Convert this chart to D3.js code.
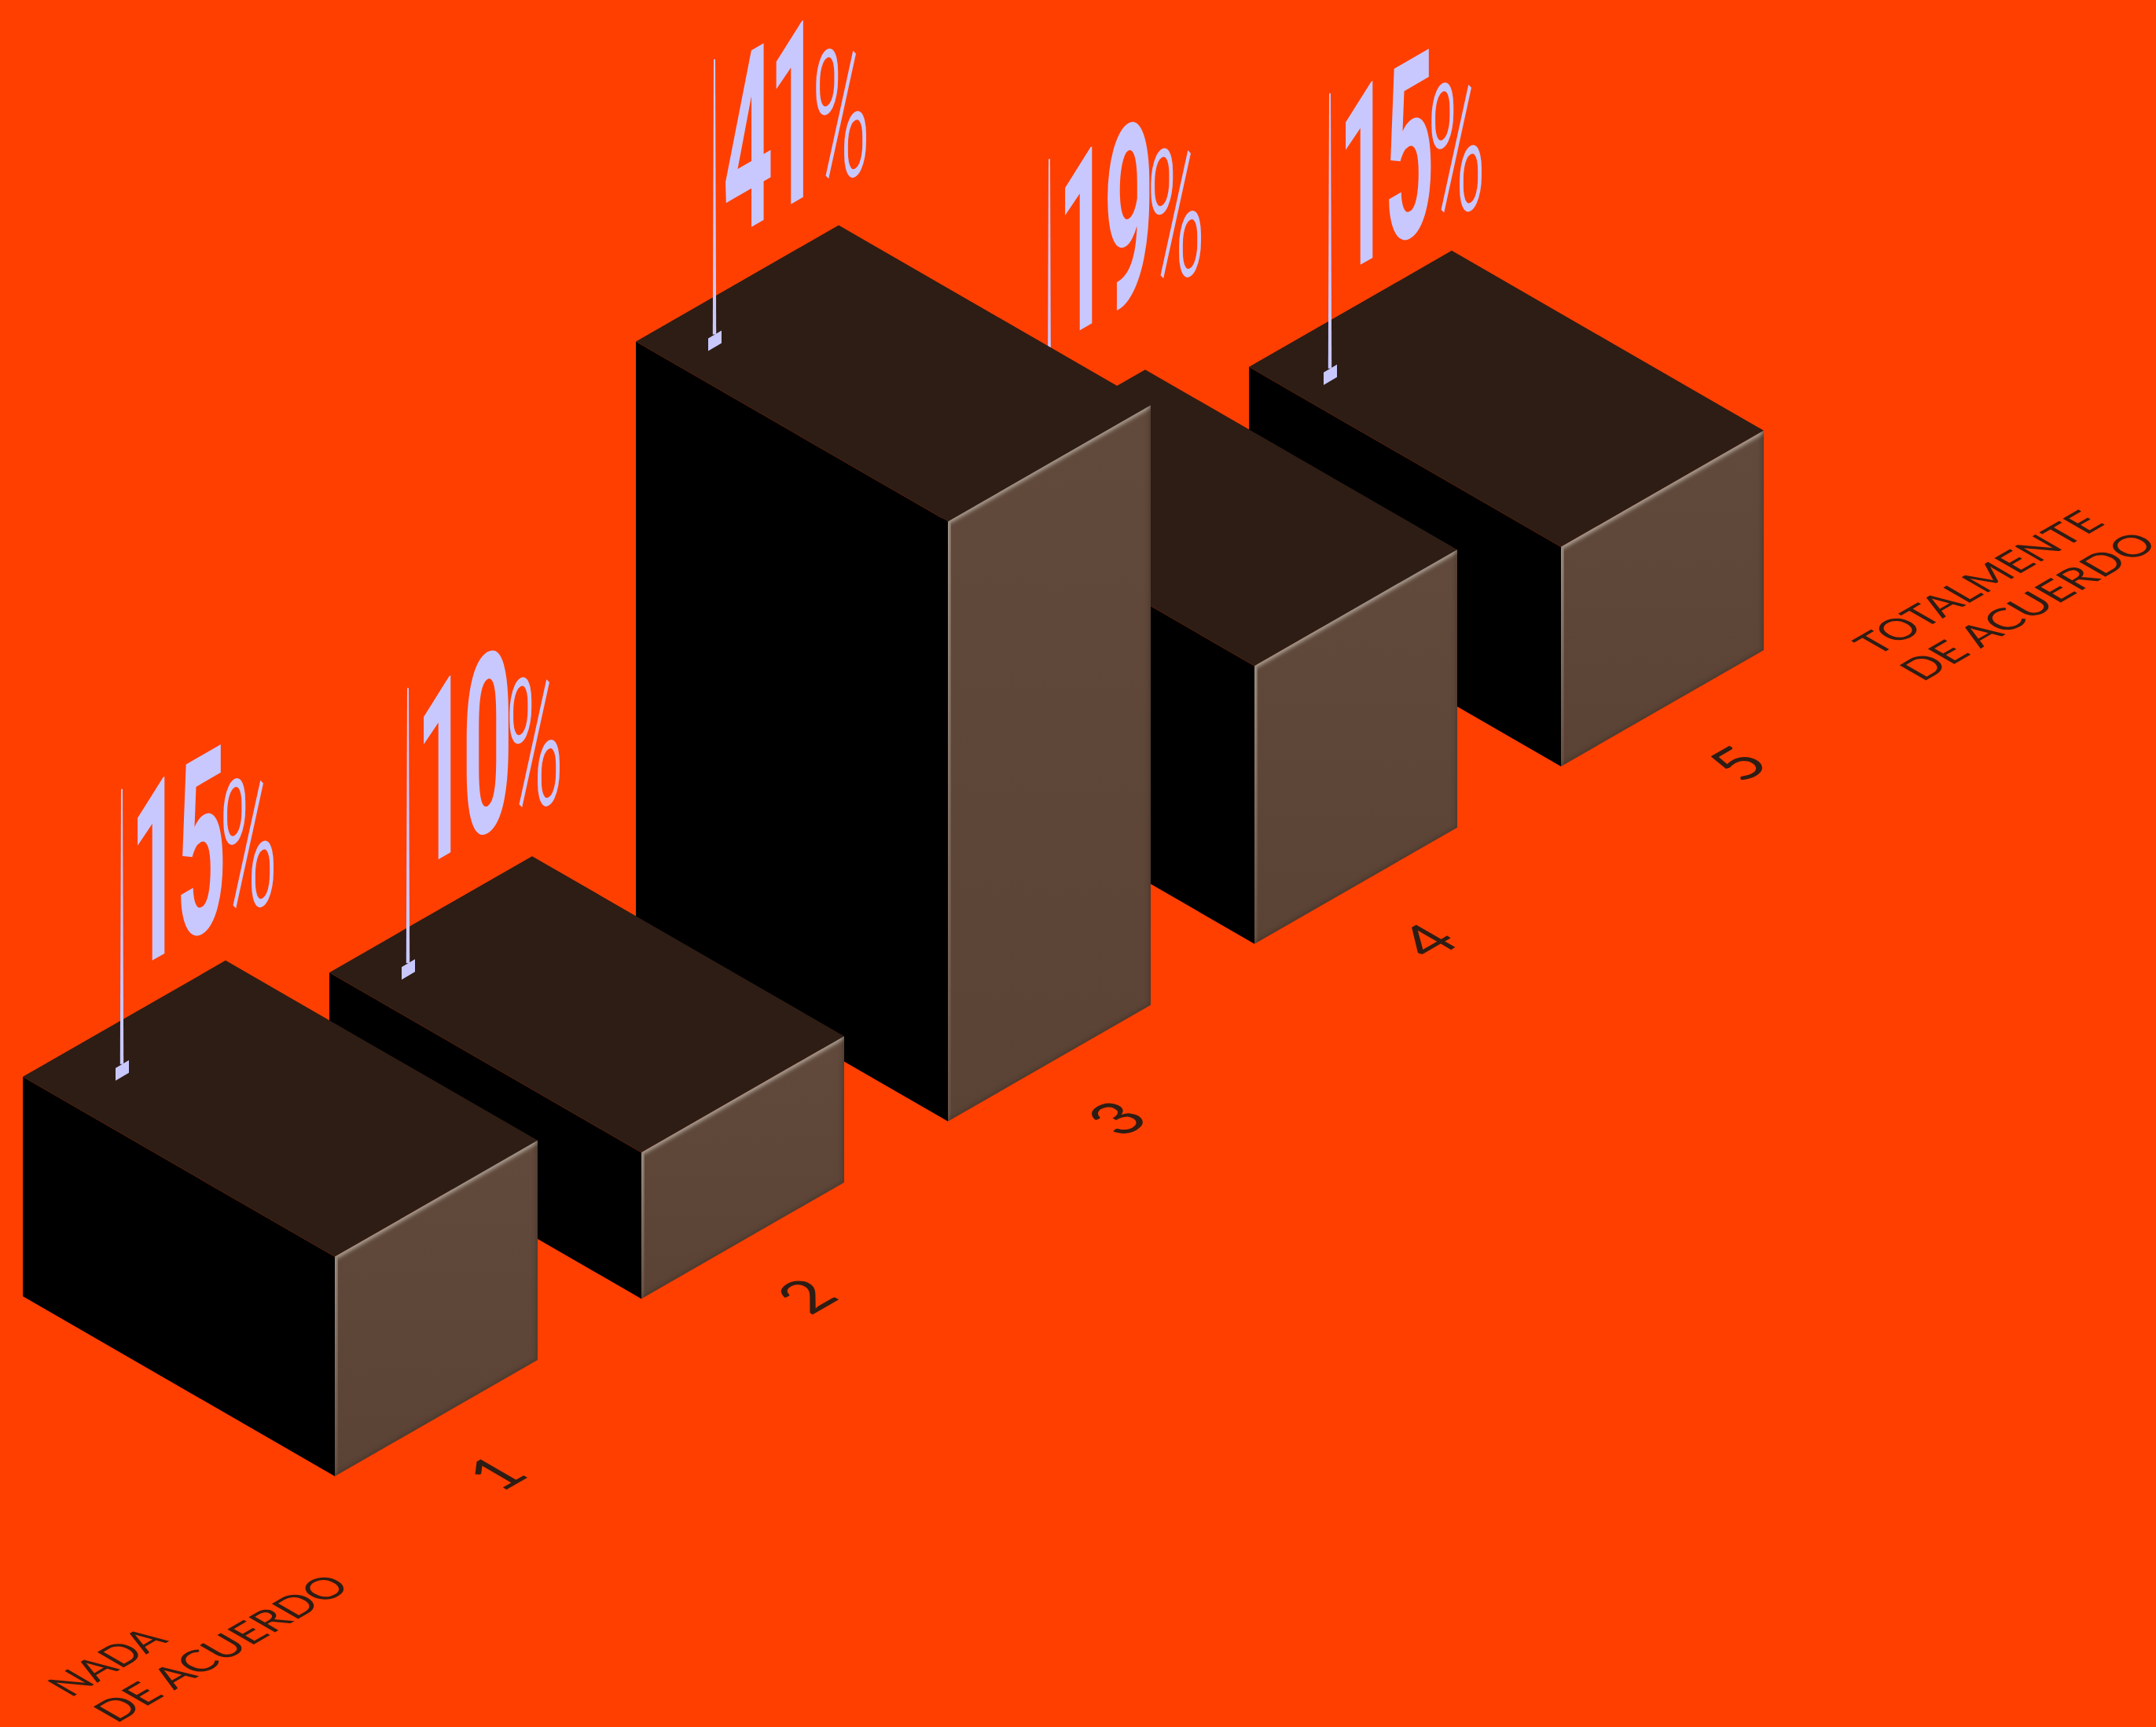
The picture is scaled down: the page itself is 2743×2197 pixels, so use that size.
<!DOCTYPE html>
<html>
<head>
<meta charset="utf-8">
<script src="https://cdn.jsdelivr.net/npm/d3@7/dist/d3.min.js"></script>
<style>
  html, body { margin: 0; padding: 0; background: #ff3f00; }
  svg { display: block; }
</style>
</head>
<body>
<script>
// Survey answers on a five-point agreement scale
const categories = ["1", "2", "3", "4", "5"];
const values = [15, 10, 41, 19, 15];
const lowLabel = ["NADA", "DE ACUERDO"];
const highLabel = ["TOTALMENTE", "DE ACUERDO"];

// Page and isometric layout
const W = 2743, H = 2197;
const colors = { bg: "#ff3f00", top: "#2e1d14", left: "#000000", pin: "#c8c8ff", ink: "#2e1d14" };
const widthVec = [258, -148];
const depthVec = [-397, -229];
// Pin placement on each block's top face
const pinShiftX = [126, 100, 100, 136, 103];
const pinRise = [366, 362, 359, 416, 348];
const pinLength = 350;

// Ground position of each block's nearest corner runs along the category axis
const groundX = d3.scalePoint().domain(categories).range([426, 1986]);
const groundY = d3.scalePoint().domain(categories).range([1878, 975]);
const height = d3.scaleLinear().domain([0, 41]).range([0, 763]);
// Scale numerals sit on a parallel line in front of the blocks
const tickX = d3.scalePoint().domain(categories).range([631, 2211]);
const tickY = d3.scalePoint().domain(categories).range([1874, 971]);

const svg = d3.select("body").append("svg").attr("width", W).attr("height", H).attr("viewBox", `0 0 ${W} ${H}`);
svg.append("rect").attr("width", W).attr("height", H).attr("fill", colors.bg);

const defs = svg.append("defs");
defs.append("filter").attr("id", "soft").attr("x", "-10%").attr("y", "-10%").attr("width", "120%").attr("height", "120%")
  .append("feGaussianBlur").attr("stdDeviation", 2.6);
const shade = defs.append("linearGradient").attr("id", "faceShade").attr("x1", 0).attr("y1", 0).attr("x2", 0).attr("y2", 1);
shade.append("stop").attr("offset", 0).attr("stop-color", "#614a3c");
shade.append("stop").attr("offset", 1).attr("stop-color", "#5a4335");

const blocks = categories.map((c, i) => {
  const h = height(values[i]);
  const fb = [groundX(c), groundY(c)];
  const ft = [fb[0], fb[1] - h];
  const add = (p, v) => [p[0] + v[0], p[1] + v[1]];
  return {
    c, i, v: values[i], fb, ft,
    rb: add(fb, widthVec), rt: add(ft, widthVec),
    lb: add(fb, depthVec), lt: add(ft, depthVec),
    bt: add(add(ft, widthVec), depthVec)
  };
});

const poly = pts => "M" + pts.map(p => p.join(",")).join("L") + "Z";

// Far blocks first, so nearer blocks overlap them
const groups = svg.selectAll("g.block").data(blocks.slice().reverse()).join("g").attr("class", "block");

groups.append("path").attr("d", d => poly([d.lt, d.ft, d.fb, d.lb])).attr("fill", colors.left);
groups.append("path").attr("d", d => poly([d.lt, d.bt, d.rt, d.ft])).attr("fill", colors.top);
groups.append("path").attr("d", d => poly([d.ft, d.rt, d.rb, d.fb])).attr("fill", "url(#faceShade)");

// Lit bevel along the top and near edges of the right face, fading away from the corner
groups.append("linearGradient").attr("id", d => `nearFade${d.i}`)
  .attr("gradientUnits", "userSpaceOnUse")
  .attr("x1", d => d.ft[0]).attr("y1", d => d.ft[1]).attr("x2", d => d.fb[0]).attr("y2", d => d.fb[1])
  .call(g => {
    g.append("stop").attr("offset", 0).attr("stop-color", "#b3a79c");
    g.append("stop").attr("offset", 1).attr("stop-color", "#6a5447");
  });
groups.append("clipPath").attr("id", d => `face${d.i}`)
  .append("path").attr("d", d => poly([d.ft, d.rt, d.rb, d.fb]));
const bevel = groups.append("g").attr("clip-path", d => `url(#face${d.i})`);
bevel.append("path").attr("d", d => `M${d.ft}L${d.rt}`)
  .attr("fill", "none").attr("stroke", "#b3a79c").attr("stroke-width", 6).attr("filter", "url(#soft)");
bevel.append("rect")
  .attr("x", d => d.ft[0] - 3).attr("y", d => d.ft[1]).attr("width", 6).attr("height", d => d.fb[1] - d.ft[1])
  .attr("fill", d => `url(#nearFade${d.i})`).attr("filter", "url(#soft)");
bevel.append("path").attr("d", d => `M${d.rt}L${d.rb}L${d.fb}`)
  .attr("fill", "none").attr("stroke", "#3a2a20").attr("stroke-width", 4).attr("filter", "url(#soft)").attr("opacity", 0.55);

// Value pins: a hairline rising from a small plate on the top face
const pinX = d => d.lt[0] + pinShiftX[d.i];
const pinTop = d => d.lt[1] - pinRise[d.i];
const pinEnd = d => pinTop(d) + pinLength;
groups.append("path").attr("fill", colors.pin)
  .attr("d", d => { const x = pinX(d), t = pinTop(d), e = pinEnd(d);
    return poly([[x - 1, t], [x + 1, t], [x + 2.2, e], [x - 2.2, e]]); });
groups.append("path").attr("fill", colors.pin)
  .attr("d", d => { const x = pinX(d) - 8, e = pinEnd(d) - 4;
    return poly([[x, e + 9], [x + 17, e - 1], [x + 17, e + 15], [x, e + 25]]); });

// Value labels, condensed and sheared onto the pin's plane
const shear = -0.577;
const digitFit = 0.35, percentFit = 0.40;
const labelX = d => pinX(d) + 11;
const labelY = d => pinTop(d) + 234;
const slant = (sx) => `matrix(${sx},${sx * shear},0,1,0,0)`;

const digits = svg.selectAll("text.value").data(blocks).join("text")
  .attr("class", "value")
  .attr("transform", d => `translate(${labelX(d)},${labelY(d)}) ${slant(digitFit)}`)
  .attr("font-family", "Roboto, sans-serif")
  .attr("font-size", 316).attr("font-weight", 700).attr("letter-spacing", -14)
  .attr("fill", colors.pin)
  .text(d => d.v);

svg.selectAll("text.percent").data(blocks).join("text")
  .attr("class", "percent")
  .attr("transform", function (d, i) {
    const run = digits.nodes()[i].getComputedTextLength() * digitFit - 4;
    return `translate(${labelX(d) + run},${labelY(d) + run * shear + 10}) ${slant(percentFit)}`;
  })
  .attr("font-family", "Roboto, sans-serif")
  .attr("font-size", 250).attr("font-weight", 300)
  .attr("fill", colors.pin)
  .text("%");

// Ground-plane text follows the isometric axes
const iso = "matrix(0.866,-0.5,0.866,0.5,0,0)";
const ground = (x, y) => `translate(${x},${y}) ${iso}`;

svg.selectAll("text.tick").data(blocks).join("text")
  .attr("class", "tick")
  .attr("transform", d => ground(tickX(d.c), tickY(d.c)))
  .attr("text-anchor", "middle").attr("dy", "0.36em")
  .attr("font-family", "Lato, sans-serif").attr("font-size", 80).attr("fill", colors.ink)
  .text(d => d.c);

const endLabels = [
  { lines: lowLabel, runs: [145, 347], x: 90, y: 2160 },
  { lines: highLabel, runs: [337, 349], x: 2388, y: 835 }
];
endLabels.forEach(label => {
  label.lines.forEach((line, k) => {
    svg.append("text")
      .attr("transform", ground(label.x + k * 58, label.y + k * 33))
      .attr("font-family", "Lato, sans-serif").attr("font-size", 54).attr("fill", colors.ink)
      .attr("textLength", label.runs[k]).attr("lengthAdjust", "spacingAndGlyphs")
      .text(line);
  });
});
</script>
</body>
</html>
